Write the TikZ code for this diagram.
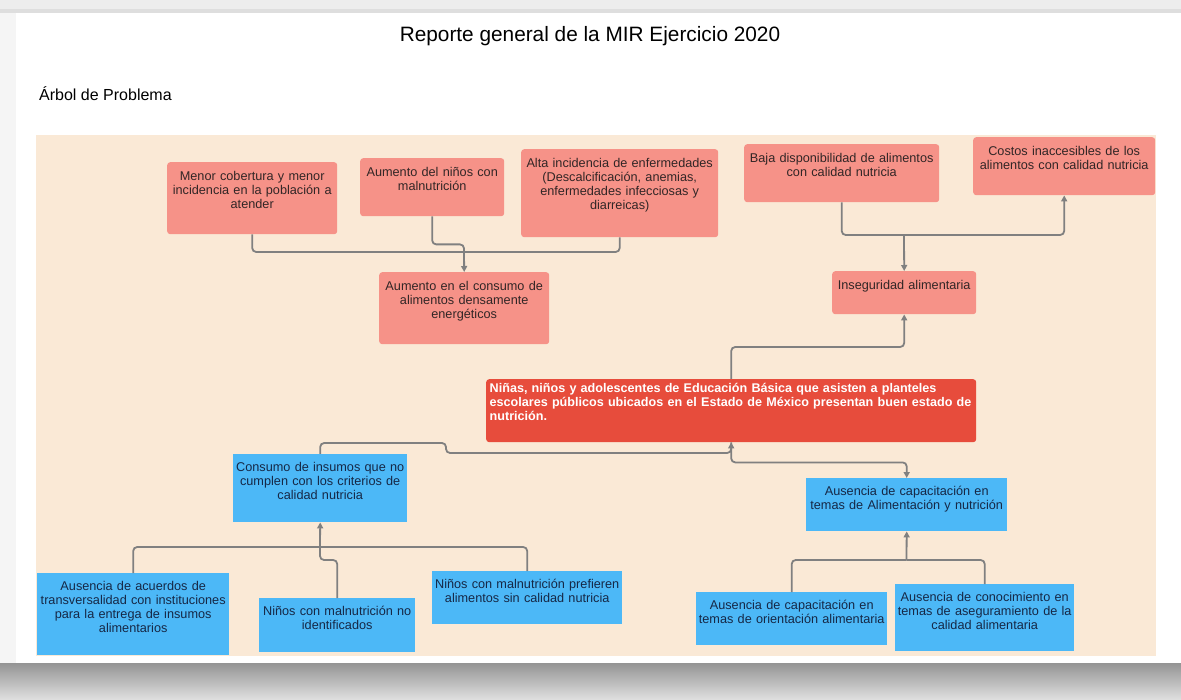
\documentclass[tikz,border=0pt]{standalone}
\usepackage{fontspec}
\setmainfont{Liberation Sans}
\usetikzlibrary{positioning,arrows.meta}
\definecolor{salmon}{RGB}{246,146,136}
\definecolor{rojo}{RGB}{231,76,60}
\definecolor{celeste}{RGB}{76,184,247}
\definecolor{beige}{RGB}{250,233,214}
\definecolor{gris}{RGB}{128,128,128}
\definecolor{textoefecto}{RGB}{50,38,38}
\definecolor{textomedio}{RGB}{22,40,70}
\tikzset{
    efecto/.style ={
        shape=rectangle,
        rounded corners=3pt,
        fill=salmon,
        text=textoefecto,
        font=\fontsize{12.7}{14}\selectfont,
        align=center,
        anchor=north west,
        inner xsep=2pt,
        inner ysep=4pt,
        text height=14.5pt
    },
    central/.style ={
        shape=rectangle,
        rounded corners=3pt,
        fill=rojo,
        text=white,
        font=\fontsize{12.6}{14}\selectfont\bfseries,
        align=left,
        anchor=north west,
        inner xsep=3.5pt,
        inner ysep=2pt,
        text height=11pt
    },
    medio/.style ={
        shape=rectangle,
        fill=celeste,
        text=textomedio,
        font=\fontsize{12.7}{14}\selectfont,
        align=center,
        anchor=north west,
        inner xsep=2pt,
        inner ysep=4pt,
        text height=13pt
    },
    linea/.style ={
        draw=gris,
        line width=1.8pt,
        rounded corners=4pt
    },
    flecha/.style ={
        linea,
        -{Triangle[length=6pt,width=6pt]}
    }
}
\begin{document}
\begin{tikzpicture}[x=1pt,y=-1pt]
    \useasboundingbox (0,0) rectangle (1181,700);
    \fill[black!7] (0,0) rectangle (1181,700);
    \fill[black!13] (0,9) rectangle (1181,13);
    \fill[black!4] (0,13) rectangle (16,663);
    \shade[top color=black!42, bottom color=black!12] (0,663) rectangle (1181,700);
    \fill[white] (16,13) rectangle (1181,663);
    \fill[beige] (36,135) rectangle (1156,656);

    \node[anchor=base, font=\fontsize{20.8}{24}\selectfont] (titulo) at(590,42) {Reporte general de la MIR Ejercicio 2020};
    \node[anchor=base west, font=\fontsize{16}{18}\selectfont, inner sep=0pt] (arbol) at(39,101) {Árbol de Problema};

    \node[efecto, text width=166pt, text depth=49.5pt] (cobertura) at(167,162) {Menor cobertura y menor\\incidencia en la población a\\atender};
    \node[efecto, text width=140pt, text depth=35.5pt] (aumento) at(360,158) {Aumento del niños con\\malnutrición};
    \node[efecto, text width=193pt, text depth=65.5pt] (enfermedades) at(521,149) {Alta incidencia de enfermedades\\(Descalcificación, anemias,\\enfermedades infecciosas y\\diarreicas)};
    \node[efecto, text width=191pt, text depth=35.5pt] (disponibilidad) at(744,144) {Baja disponibilidad de alimentos\\con calidad nutricia};
    \node[efecto, text width=178pt, text depth=35.5pt] (costos) at(973,137) {Costos inaccesibles de los\\alimentos con calidad nutricia};
    \node[efecto, text width=166pt, text depth=49.5pt] (consumo) at(379,272) {Aumento en el consumo de\\alimentos densamente\\energéticos};
    \node[efecto, text width=140pt, text depth=20.5pt] (inseguridad) at(832,271) {Inseguridad alimentaria};

    \node[central, text width=483pt, text depth=48pt] (problema) at(486,379) {Niñas, niños y adolescentes de Educación Básica que asisten a planteles\\escolares públicos ubicados en el Estado de México presentan buen estado de\\nutrición.};

    \node[medio, text width=170pt, text depth=47pt] (insumos) at(233,454) {Consumo de insumos que no\\cumplen con los criterios de\\calidad nutricia};
    \node[medio, text width=197pt, text depth=32pt] (capacitacion) at(806,478) {Ausencia de capacitación en\\temas de Alimentación y nutrición};
    \node[medio, text width=188pt, text depth=61pt] (acuerdos) at(37,573) {Ausencia de acuerdos de\\transversalidad con instituciones\\para la entrega de insumos\\alimentarios};
    \node[medio, text width=152pt, text depth=33pt] (identificados) at(259,598) {Niños con malnutrición no\\identificados};
    \node[medio, text width=186pt, text depth=32pt] (prefieren) at(432,571) {Niños con malnutrición prefieren\\alimentos sin calidad nutricia};
    \node[medio, text width=187pt, text depth=32pt] (orientacion) at(696,592) {Ausencia de capacitación en\\temas de orientación alimentaria};
    \node[medio, text width=175pt, text depth=46pt] (conocimiento) at(895,584) {Ausencia de conocimiento en\\temas de aseguramiento de la\\calidad alimentaria};

    \coordinate (jconsumo) at(464,252);
    \coordinate (jinseguridad) at(904,235);
    \coordinate (jproblema) at(446,443);
    \coordinate (jinsumos) at(320,547);
    \coordinate (jcapacitacion) at(906.5,560);

    \draw[linea] (cobertura.south) |- (jconsumo);
    \draw[linea] (enfermedades.south) |- (jconsumo);
    \draw[linea] (aumento.south) -- ++(0,28) -| (jconsumo);
    \draw[flecha] (jconsumo) -- (consumo.north);

    \draw[linea] (disponibilidad.south) |- (jinseguridad);
    \draw[flecha] (jinseguridad) -| (costos.south);
    \draw[flecha] (jinseguridad) -- (inseguridad.north);

    \draw[flecha] (problema.north) -- ++(0,-32) -| (inseguridad.south);
    \draw[flecha] (insumos.north) |- (jproblema) -- ++(0,10) -| (problema.south);
    \draw[flecha] (problema.south) -- ++(0,20) -| (capacitacion.north);

    \draw[linea] (acuerdos.north) |- (jinsumos);
    \draw[linea] (prefieren.north) |- (jinsumos);
    \draw[linea] (identificados.north) -- ++(0,-38) -| (jinsumos);
    \draw[flecha] (jinsumos) -- (insumos.south);

    \draw[linea] (orientacion.north) |- (jcapacitacion);
    \draw[linea] (conocimiento.north) |- (jcapacitacion);
    \draw[flecha] (jcapacitacion) -- (capacitacion.south);
\end{tikzpicture}
\end{document}
